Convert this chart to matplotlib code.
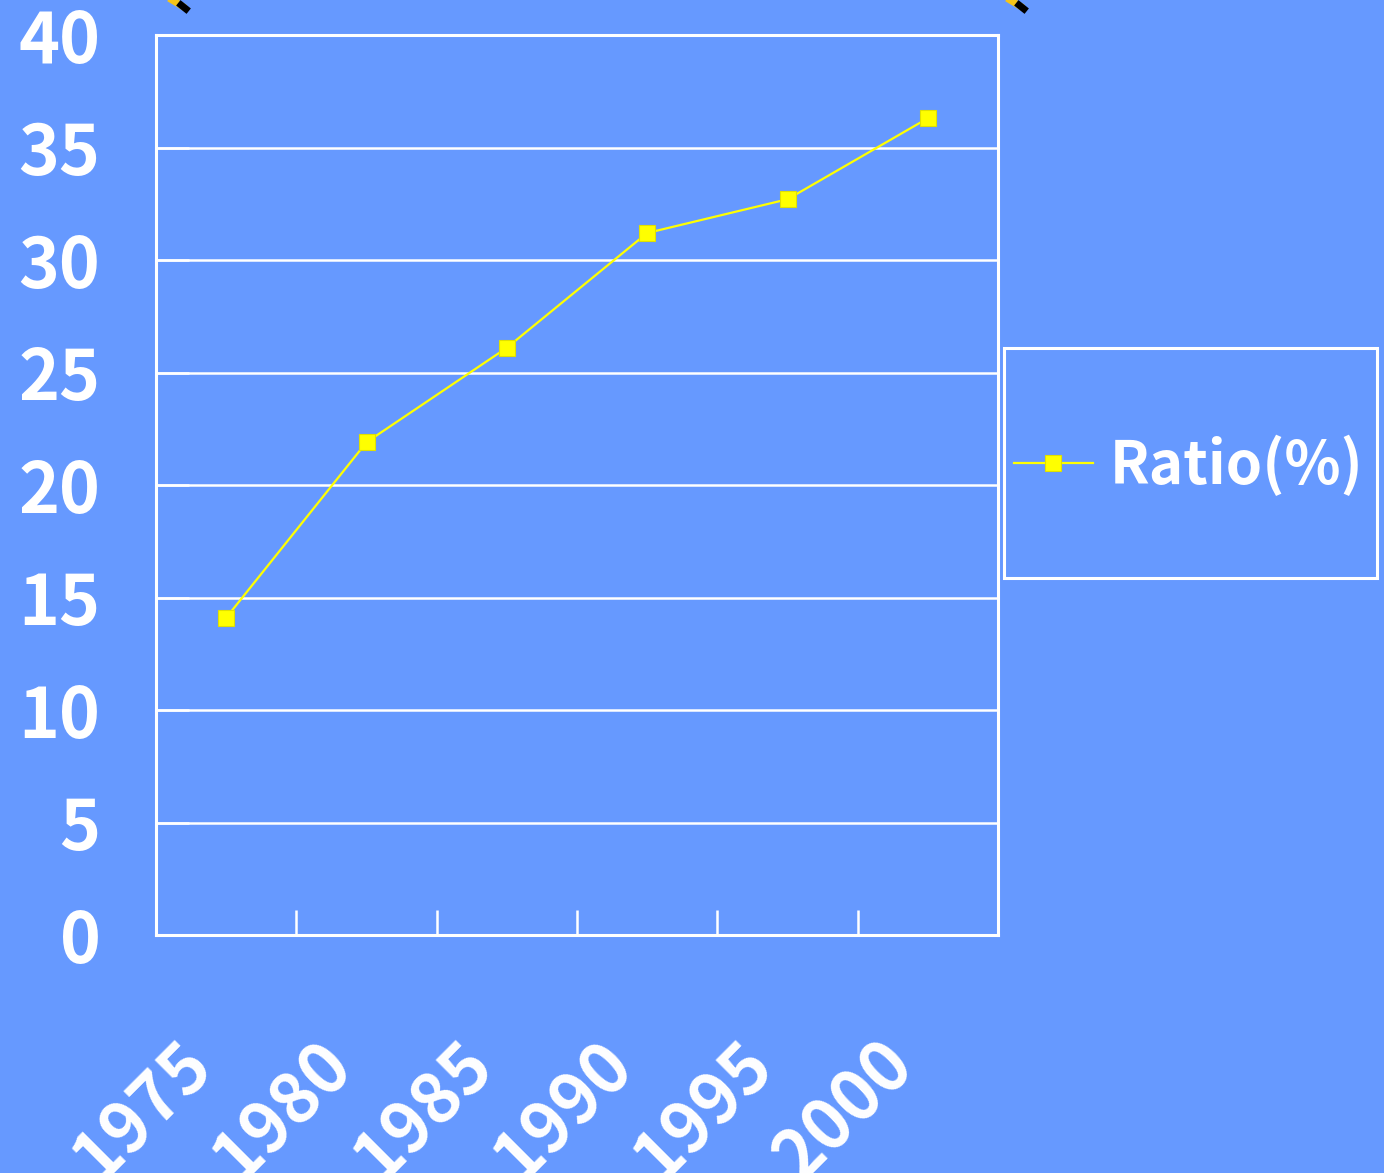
import matplotlib.pyplot as plt
from matplotlib.lines import Line2D
from matplotlib.patches import Rectangle
from matplotlib.transforms import ScaledTranslation

W, H, DPI = 1384, 1173, 100
BG = "#6699FF"

years = ["1975", "1980", "1985", "1990", "1995", "2000"]
ratio = [14.1, 21.9, 26.1, 31.2, 32.7, 36.3]
y_ticks = [0, 5, 10, 15, 20, 25, 30, 35, 40]

plt.rcParams["font.family"] = ["Noto Sans CJK JP", "DejaVu Sans"]
plt.rcParams["font.weight"] = "bold"

fig = plt.figure(figsize=(W / DPI, H / DPI), dpi=DPI, facecolor=BG)
ax = fig.add_axes([156 / W, 1 - 935 / H, (998 - 156) / W, (935 - 35) / H])
ax.set_facecolor(BG)

xs = range(len(years))
ax.plot(xs, ratio, color="#FFFF00", lw=1.6, marker="s", ms=12,
        mfc="#FFFF00", mec="#E0E000", mew=0.8, label="Ratio(%)", zorder=3)

ax.set_xlim(-0.5, len(years) - 0.5)
ax.set_ylim(0, 40)
ax.set_yticks(y_ticks)
ax.grid(axis="y", color="white", lw=1.8)
ax.set_axisbelow(True)
for s in ax.spines.values():
    s.set_color("white")
    s.set_linewidth(2.2)

# category boundary ticks along the bottom
ax.set_xticks([i + 0.5 for i in range(len(years) - 1)], minor=True)
ax.tick_params(axis="x", which="minor", direction="in", length=18, width=1.8,
               color="white")
ax.set_xticks(list(xs))
ax.set_xticklabels(years, rotation=45, ha="right", va="center",
                   rotation_mode="anchor")
ax.tick_params(axis="x", which="major", length=0, pad=0, labelsize=50,
               labelcolor="white")
shift = ScaledTranslation(-26 / DPI, -118 / DPI, fig.dpi_scale_trans)
for lab in ax.get_xticklabels():
    lab.set_transform(lab.get_transform() + shift)

ax.tick_params(axis="y", direction="in", length=24, width=1.8, color="white",
               labelsize=50, labelcolor="white", pad=40)

# legend in its own white frame on the right
fig.patches.append(Rectangle((1004 / W, 1 - 578 / H), 373 / W, 230 / H,
                             transform=fig.transFigure, fill=False,
                             ec="white", lw=2.2))
handle = Line2D([], [], color="#FFFF00", lw=1.6, marker="s", ms=12,
                mfc="#FFFF00", mec="#E0E000", mew=0.8)
fig.legend([handle], ["Ratio(%)"], loc="center left",
           bbox_to_anchor=(1008 / W, 1 - 466 / H), frameon=False,
           borderaxespad=0, borderpad=0.1,
           fontsize=42, labelcolor="white", handlelength=1.35,
           handletextpad=0.3)

# pencil tips peeking in at the top edge
for x0 in [172, 1010]:
    fig.add_artist(Line2D([x0 / W, (x0 + 10) / W], [1.0, 1 - 6 / H],
                          transform=fig.transFigure, color="#F5C518", lw=5))
    fig.add_artist(Line2D([(x0 + 9) / W, (x0 + 14) / W],
                          [1 - 5 / H, 1 - 9 / H],
                          transform=fig.transFigure, color="black", lw=5))

fig.savefig("out.png", dpi=DPI, facecolor=BG)
